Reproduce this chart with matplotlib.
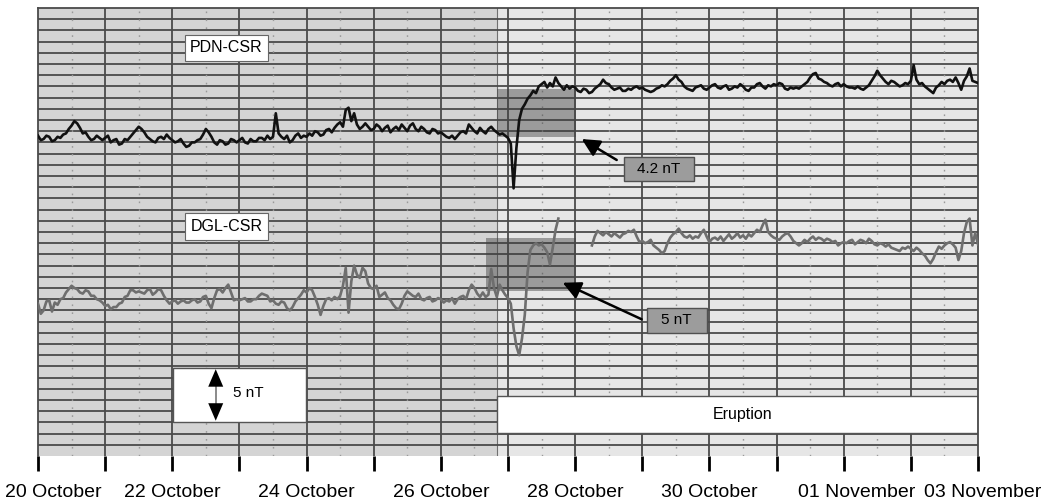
import numpy as np
import matplotlib
matplotlib.use("Agg")
import matplotlib.pyplot as plt
from matplotlib.patches import Rectangle
from matplotlib.transforms import ScaledTranslation

plt.rcParams['font.family'] = ['Liberation Sans', 'DejaVu Sans']

# ---------------- data (hourly samples from 20 Oct 00:00, field in nT) ----------------
sample_step_h = 1.0

pdn_csr = [
    28.6, 28.2, 28.3, 28.6, 28.5, 28.1, 28.2, 28.5, 28.4, 28.7, 28.8, 29.2,
    29.5, 29.9, 29.7, 29.3, 28.8, 28.9, 28.5, 28.2, 28.3, 28.6, 28.4, 28.2,
    28.4, 28.6, 28.0, 28.2, 28.3, 27.8, 27.9, 28.3, 28.2, 28.5, 28.8, 29.1,
    29.4, 29.2, 28.9, 28.5, 28.3, 28.1, 28.0, 28.4, 28.5, 28.3, 28.7, 28.4,
    28.2, 28.0, 28.1, 28.3, 27.9, 27.6, 27.7, 28.0, 28.0, 28.2, 28.3, 28.7,
    29.2, 28.9, 28.5, 28.0, 27.8, 28.2, 28.1, 27.8, 27.9, 28.3, 28.2, 28.0,
    28.2, 28.4, 28.0, 27.9, 28.3, 28.1, 28.1, 28.4, 28.4, 28.2, 28.6, 28.3,
    28.5, 30.6, 28.8, 28.5, 28.3, 28.6, 28.0, 28.2, 28.6, 28.8, 28.4, 28.6,
    28.5, 28.8, 28.6, 29.0, 28.9, 28.6, 28.7, 29.1, 29.2, 28.9, 29.3, 29.6,
    29.8, 29.4, 30.9, 31.1, 29.9, 30.6, 29.6, 29.2, 29.4, 29.7, 29.4, 29.1,
    29.2, 29.6, 29.4, 29.0, 29.3, 29.5, 28.9, 29.2, 29.4, 29.1, 29.6, 29.3,
    29.0, 29.5, 29.7, 29.2, 29.0, 29.4, 29.2, 28.9, 28.8, 29.2, 29.1, 28.8,
    28.9, 28.7, 28.5, 28.4, 28.6, 28.3, 28.6, 28.9, 29.0, 28.8, 29.6, 29.3,
    29.0, 28.8, 29.3, 29.0, 28.8, 29.2, 29.4, 29.1, 28.9, 28.7, 28.8, 28.6,
    28.4, 27.9, 23.9, 27.5, 30.0, 31.0, 31.4, 31.9, 32.2, 32.6, 32.4, 33.0,
    33.2, 33.4, 32.9, 33.3, 33.0, 33.8, 33.3, 33.0, 32.7, 33.1, 32.8, 33.0,
    32.9, 32.6, 32.5, 32.8, 32.7, 32.4, 32.5, 32.8, 33.0, 33.2, 33.6, 33.3,
    33.2, 32.9, 32.7, 32.8, 32.9, 32.6, 32.6, 32.8, 32.7, 32.9, 33.0, 32.8,
    32.9, 32.7, 32.6, 32.5, 32.6, 32.8, 32.9, 33.1, 33.0, 33.2, 33.5, 33.7,
    34.0, 33.6, 33.4, 33.0, 32.8, 32.7, 32.6, 32.9, 33.0, 33.1, 32.8, 32.7,
    32.9, 33.1, 33.2, 32.9, 32.8, 33.0, 33.1, 32.7, 32.8, 33.0, 32.9, 33.2,
    33.0, 32.7, 32.6, 32.9, 32.9, 33.2, 33.3, 33.0, 32.8, 33.1, 33.0, 33.2,
    33.1, 33.3, 33.2, 32.8, 32.7, 32.9, 32.8, 32.9, 32.8, 33.0, 33.2, 33.4,
    33.8, 34.1, 34.2, 33.7, 33.6, 33.4, 33.3, 33.1, 33.0, 33.2, 33.3, 33.0,
    33.2, 33.0, 32.9, 32.9, 32.8, 33.0, 32.8, 32.7, 32.9, 33.1, 33.5, 33.9,
    34.4, 34.0, 33.7, 33.4, 33.2, 33.5, 33.4, 33.2, 33.0, 33.1, 33.3, 33.2,
    33.5, 34.9, 33.6, 33.2, 33.3, 33.0, 32.8, 32.6, 32.4, 32.9, 33.1, 33.4,
    33.2, 33.5, 33.6, 33.4, 33.8, 33.3, 32.7, 33.5, 33.9, 34.6, 33.5, 33.4, 33.3,
]

nan = np.nan
dgl_csr = [
    13.6, 12.7, 13.0, 13.8, 13.9, 12.9, 13.7, 13.5, 14.0, 14.1, 14.6, 14.9,
    15.2, 15.0, 14.9, 14.6, 14.5, 14.8, 14.7, 14.3, 14.3, 14.0, 13.9, 13.7,
    13.4, 13.5, 13.1, 13.3, 13.3, 13.6, 13.7, 14.2, 14.3, 14.8, 14.8, 14.6,
    14.7, 14.6, 14.5, 14.8, 14.9, 14.4, 14.6, 14.9, 14.8, 14.3, 13.9, 13.6,
    13.8, 13.9, 13.6, 13.8, 13.9, 13.7, 13.7, 13.9, 14.0, 13.7, 13.8, 14.2,
    14.3, 13.6, 13.2, 14.1, 14.8, 14.9, 14.6, 15.0, 15.3, 14.6, 13.9, 14.0,
    13.9, 14.0, 14.1, 13.8, 13.8, 14.0, 14.0, 14.3, 14.5, 14.4, 14.3, 13.8,
    13.9, 13.6, 13.5, 13.8, 13.7, 13.2, 13.0, 13.3, 13.8, 14.1, 14.4, 14.8,
    14.6, 15.0, 14.8, 14.2, 13.5, 12.6, 13.4, 14.0, 14.1, 13.9, 14.2, 14.0,
    14.3, 15.2, 16.8, 12.8, 15.6, 17.0, 16.2, 15.9, 16.8, 16.5, 15.4, 15.0,
    14.9, 15.2, 14.2, 14.4, 14.6, 14.1, 13.9, 13.5, 13.2, 13.1, 13.6, 14.3,
    14.7, 14.5, 14.3, 14.2, 14.5, 14.0, 13.9, 14.1, 14.2, 13.8, 13.9, 14.1,
    14.0, 13.7, 13.9, 13.8, 14.1, 13.6, 14.0, 14.2, 14.3, 14.0, 14.8, 15.3,
    15.0, 14.5, 14.2, 14.6, 14.2, 14.4, 16.7, 15.0, 14.2, 15.3, 14.8, 14.4,
    14.1, 13.6, 11.4, 9.8, 9.0, 10.5, 12.6, 16.4, 18.4, 18.8, 19.0, 18.8,
    18.9, 18.6, 18.2, 17.1, 18.6, 20.2, 21.2, nan, nan, nan, nan, nan,
    nan, nan, nan, nan, nan, nan, 18.8, 19.6, 20.1, 19.9, 19.7, 20.0,
    19.8, 19.6, 19.9, 19.7, 19.5, 19.8, 19.9, 20.1, 20.0, 20.2, 19.6, 19.1,
    19.2, 19.0, 19.1, 19.3, 18.8, 18.6, 18.4, 18.1, 18.3, 19.0, 19.5, 19.8,
    20.0, 20.3, 19.9, 19.6, 19.5, 19.7, 19.4, 19.6, 19.5, 19.9, 20.2, 19.6,
    19.1, 19.4, 19.5, 19.3, 19.6, 19.2, 19.5, 19.8, 19.4, 19.6, 19.9, 19.5,
    19.7, 19.4, 19.8, 19.6, 19.9, 20.2, 20.0, 20.6, 21.1, 20.0, 19.7, 19.5,
    19.4, 19.3, 19.6, 19.8, 19.9, 19.6, 19.2, 19.0, 18.8, 19.0, 19.3, 19.1,
    19.4, 19.6, 19.3, 19.5, 19.4, 19.2, 19.4, 19.3, 19.1, 19.2, 18.8, 19.0,
    19.1, 19.0, 19.2, 19.3, 18.9, 19.1, 19.3, 19.2, 19.0, 19.4, 19.2, 18.9,
    18.8, 19.0, 18.9, 18.7, 18.9, 18.6, 18.5, 18.4, 18.3, 18.6, 18.5, 18.7,
    18.5, 18.3, 18.6, 18.4, 18.1, 17.9, 17.5, 17.2, 17.6, 18.2, 18.7, 18.5,
    18.8, 19.0, 19.1, 18.9, 18.6, 17.5, 18.3, 19.9, 20.9, 21.2, 18.8, 19.9, 18.9,
]

tick_days = list(range(0, 15))
tick_labels = ["20 October", "", "22 October", "", "24 October", "", "26 October", "",
               "28 October", "", "30 October", "", "01 November", "", "03 November"]

pdn_t = np.arange(len(pdn_csr)) * sample_step_h / 24.0
dgl_t = np.arange(len(dgl_csr)) * sample_step_h / 24.0

# ---------------- figure ----------------
W, H = 1057, 501
fig = plt.figure(figsize=(W / 100, H / 100), dpi=100)
ax = fig.add_axes([38 / W, 1 - 456 / H, (978 - 38) / W, (456 - 8) / H])
ax.set_xlim(0, 14)
ax.set_ylim(0, 40)

split = 6.836
ax.axvspan(0, split, color='#d4d4d4', zorder=0, lw=0)
ax.axvspan(split, 14, color='#e6e6e6', zorder=0, lw=0)
ax.axvline(split, color='#707070', lw=0.8, zorder=1)

grid_c = '#4a4a4a'
for k in range(1, 40):
    ax.axhline(k, color=grid_c, lw=1.3, zorder=1)
for d in range(1, 14):
    ax.axvline(d, color=grid_c, lw=1.3, zorder=1)
for d in range(14):
    ax.axvline(d + 0.5, color='#9a9a9a', lw=1.0, ls=(0, (1.2, 4.5)), zorder=1)

# white boxes
ax.add_patch(Rectangle((2.006, 3.04), 1.986, 4.84, facecolor='white', edgecolor='#555555', lw=1.0, zorder=2))
ax.add_patch(Rectangle((split, 2.03), 14 - split, 3.35, facecolor='white', edgecolor='#555555', lw=1.0, zorder=2))

# shaded boxes
ax.add_patch(Rectangle((6.83, 28.45), 1.18, 4.32, facecolor='#404040', alpha=0.45, lw=0, zorder=3))
ax.add_patch(Rectangle((6.668, 14.76), 1.342, 4.68, facecolor='#404040', alpha=0.45, lw=0, zorder=3))

# series
ax.plot(pdn_t, pdn_csr, color='#111111', lw=1.9, zorder=5)
ax.plot(dgl_t, dgl_csr, color='#6e6e6e', lw=1.9, zorder=5)

# labels
def label_box(x, y, txt):
    ax.text(x, y, txt, fontsize=11.5, ha='center', va='center', zorder=6,
            bbox=dict(boxstyle='square,pad=0.35', facecolor='white', edgecolor='#666666', lw=0.8))

label_box(2.807, 36.43, "PDN-CSR")
label_box(2.807, 20.49, "DGL-CSR")

# scale bar
sx = 2.647
ax.plot([sx, sx], [3.6, 7.3], color='#777777', lw=1.2, zorder=6)
ax.annotate('', xy=(sx, 7.75), xytext=(sx, 3.15),
            arrowprops=dict(arrowstyle='<|-|>,head_length=0.7,head_width=0.3', color='black', lw=0.0,
                            mutation_scale=18, shrinkA=0, shrinkB=0), zorder=7)
ax.text(2.90, 5.63, "5 nT", fontsize=11, ha='left', va='center', zorder=7)

ax.text(10.49, 3.72, "Eruption", fontsize=11.5, ha='center', va='center', zorder=6)

# callouts
def callout(x0, y0, w, h, txt, start, end):
    ax.add_patch(Rectangle((x0, y0), w, h, facecolor='#9c9c9c', edgecolor='#505050', lw=1.0, zorder=6))
    ax.text(x0 + w / 2, y0 + h / 2, txt, fontsize=11, ha='center', va='center', zorder=7)
    ax.annotate('', xy=end, xytext=start,
                arrowprops=dict(arrowstyle='-|>,head_length=0.6,head_width=0.3', color='black', lw=1.8,
                                mutation_scale=18, shrinkA=0, shrinkB=0), zorder=7)

callout(8.728, 24.58, 1.042, 2.09, "4.2 nT", (8.619, 26.43), (8.098, 28.30))
callout(9.066, 11.01, 0.894, 2.18, "5 nT", (8.99, 12.21), (7.815, 15.47))

# axes styling
for s in ['left', 'top', 'right']:
    ax.spines[s].set_color('#4a4a4a')
    ax.spines[s].set_linewidth(1.3)
ax.spines['bottom'].set_visible(False)
ax.set_yticks([])
ax.set_xticks(tick_days)
ax.set_xticklabels(tick_labels, fontsize=14)
ax.tick_params(axis='x', length=11, width=2, color='black', pad=9.5, direction='out')

offsets_px = {0: 15, 12: 13, 14: 5}
for i, lab in enumerate(ax.get_xticklabels()):
    if i in offsets_px:
        lab.set_transform(lab.get_transform() + ScaledTranslation(offsets_px[i] / 100, 0, fig.dpi_scale_trans))

fig.savefig("out.png", dpi=100)
